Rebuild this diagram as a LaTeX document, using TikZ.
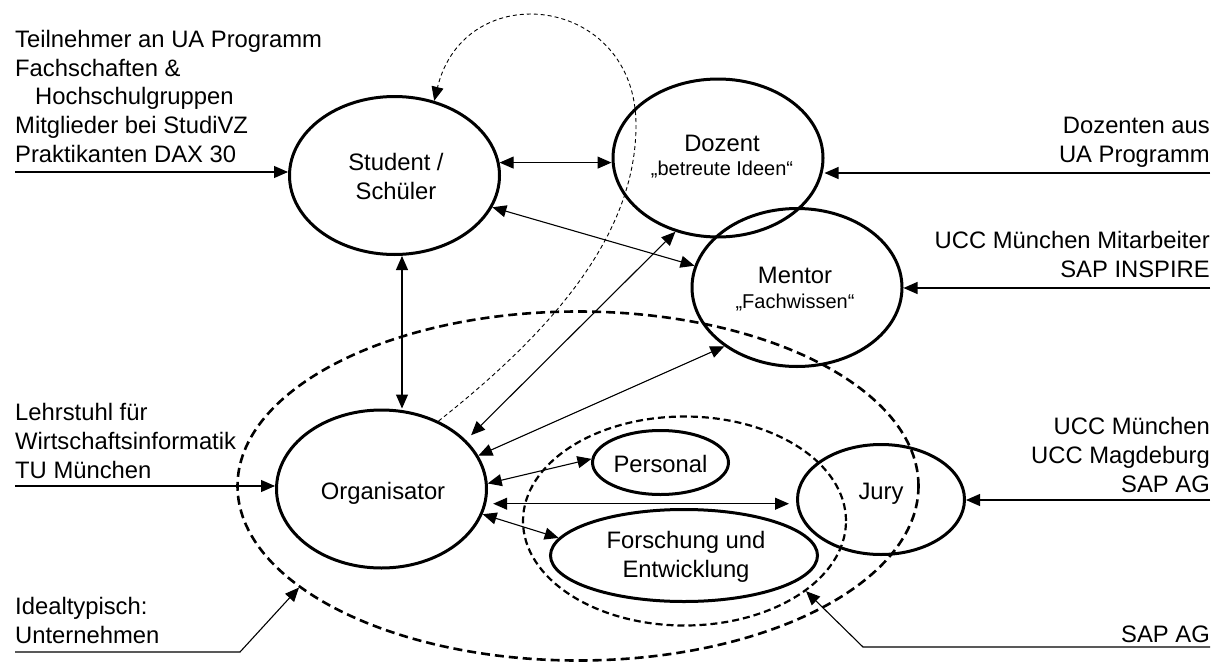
\documentclass[tikz,border=0pt]{standalone}
\usepackage{fontspec}
\setmainfont{Liberation Sans}
\usetikzlibrary{arrows.meta,shapes.geometric}
\begin{document}
\begin{tikzpicture}[x=1pt,y=-1pt,
  >={Triangle[length=14pt,width=12pt]},
  role/.style={ellipse,draw,line width=3pt,inner sep=0pt,minimum width=210pt,minimum height=158pt},
  unit/.style={ellipse,draw,line width=3pt,inner sep=0pt},
  group/.style={ellipse,draw,inner sep=0pt},
  conn/.style={line width=1.1pt},
  lbl/.style={font=\fontsize{23.8}{28.6}\selectfont,inner sep=0pt},
  sublbl/.style={font=\fontsize{20}{24}\selectfont,inner sep=0pt}]
\useasboundingbox (0,0) rectangle (1224,664);

% roles
\node[role] (stu) at (394.5,175.5) {};
\node[role] (doz) at (718,158) {};
\node[role] (men) at (797,287.5) {};
\node[role] (org) at (381.5,489) {};
\node[unit,minimum width=136pt,minimum height=64pt] (pers) at (660.5,462.5) {};
\node[unit,minimum width=267pt,minimum height=92pt] (fe) at (684,555.5) {};
\node[unit,minimum width=167pt,minimum height=110pt] (jury) at (881,499.5) {};

% groupings
\node[group,line width=2.2pt,dash pattern=on 7pt off 4pt,minimum width=323pt,minimum height=209pt] (sap) at (684.5,521) {};
\node[group,line width=2.6pt,dash pattern=on 9pt off 5pt,minimum width=681pt,minimum height=349pt] (firm) at (578,486) {};

% labels inside the roles (multi-line nodes sit on their last baseline)
\node[lbl,anchor=base,align=center] (stuL) at (396,199) {Student /\\Schüler};
\node[lbl,anchor=base] (dozL) at (722,151) {Dozent};
\node[sublbl,anchor=base] (dozS) at (722,175) {„betreute Ideen“};
\node[lbl,anchor=base] (menL) at (795,283) {Mentor};
\node[sublbl,anchor=base] (menS) at (795,308) {„Fachwissen“};
\node[lbl,anchor=base] (orgL) at (383,499) {Organisator};
\node[lbl,anchor=base] (persL) at (660.5,472) {Personal};
\node[lbl,anchor=base,align=center] (feL) at (686,577) {Forschung und\\Entwicklung};
\node[lbl,anchor=base] (juryL) at (881,499) {Jury};

% sources
\node[lbl,anchor=base west,align=left] (srcStu) at (15,162)
  {Teilnehmer an UA Programm\\Fachschaften \&\\\hspace*{20pt}Hochschulgruppen\\Mitglieder bei StudiVZ\\Praktikanten DAX 30};
\node[lbl,anchor=base west,align=left] (srcOrg) at (15,478)
  {Lehrstuhl für\\Wirtschaftsinformatik\\TU München};
\node[lbl,anchor=base west,align=left] (srcFirm) at (15,643)
  {Idealtypisch:\\Unternehmen};
\node[lbl,anchor=base east,align=right] (srcDoz) at (1210,162)
  {Dozenten aus\\UA Programm};
\node[lbl,anchor=base east,align=right] (srcMen) at (1210,277)
  {UCC München Mitarbeiter\\SAP INSPIRE};
\node[lbl,anchor=base east,align=right] (srcJury) at (1210,492)
  {UCC München\\UCC Magdeburg\\SAP AG};
\node[lbl,anchor=base east] (srcSap) at (1210,642) {SAP AG};

% line ends
\coordinate (inStu) at (15,172);
\coordinate (inOrg) at (15,486);
\coordinate (inDoz) at (1210,173);
\coordinate (inMen) at (1210,288);
\coordinate (inJury) at (1210,500);
\coordinate (sapA) at (1210,647);
\coordinate (sapB) at (863,647);
\coordinate (firmA) at (15,652);
\coordinate (firmB) at (240,652);
\coordinate (vx) at (402,0);

% connectors
\draw[conn,->] (inStu) -- (inStu -| stu.west);
\draw[conn,->] (inOrg) -- (inOrg -| org.west);
\draw[conn,->] (inDoz) -- (inDoz -| doz.east);
\draw[conn,->] (inMen) -- (inMen -| men.east);
\draw[conn,->] (inJury) -- (inJury -| jury.east);
\draw[conn,<->] (stu.7) -- (stu.7 -| doz.west);
\draw[conn,<->] (stu.-18) -- (men.168);
\draw[conn,<->] (stu.south -| vx) -- (org.north -| vx);
\draw[conn,<->,shorten >=7pt] (doz.240) -- (org.30);
\draw[conn,<->] (men.219) -- (org.19);
\draw[conn,<->] (org.3) -- (pers.177);
\draw[conn,<->,shorten <=7pt,shorten >=7pt] (org.-8) -- (org.-8 -| jury.west);
\draw[conn,<->] (org.-14) -- (fe.172);
\draw[conn,->] (sapA) -- (sapB) -- (sap.-30);
\draw[conn,->] (firmA) -- (firmB) -- (firm.200);
\draw[line width=0.9pt,dash pattern=on 4pt off 3pt,->] (org.50)
  .. controls (560,325) and (636,230) .. (636,125)
  .. controls (636,-5) and (465,-25) .. (stu.62);
\end{tikzpicture}
\end{document}
